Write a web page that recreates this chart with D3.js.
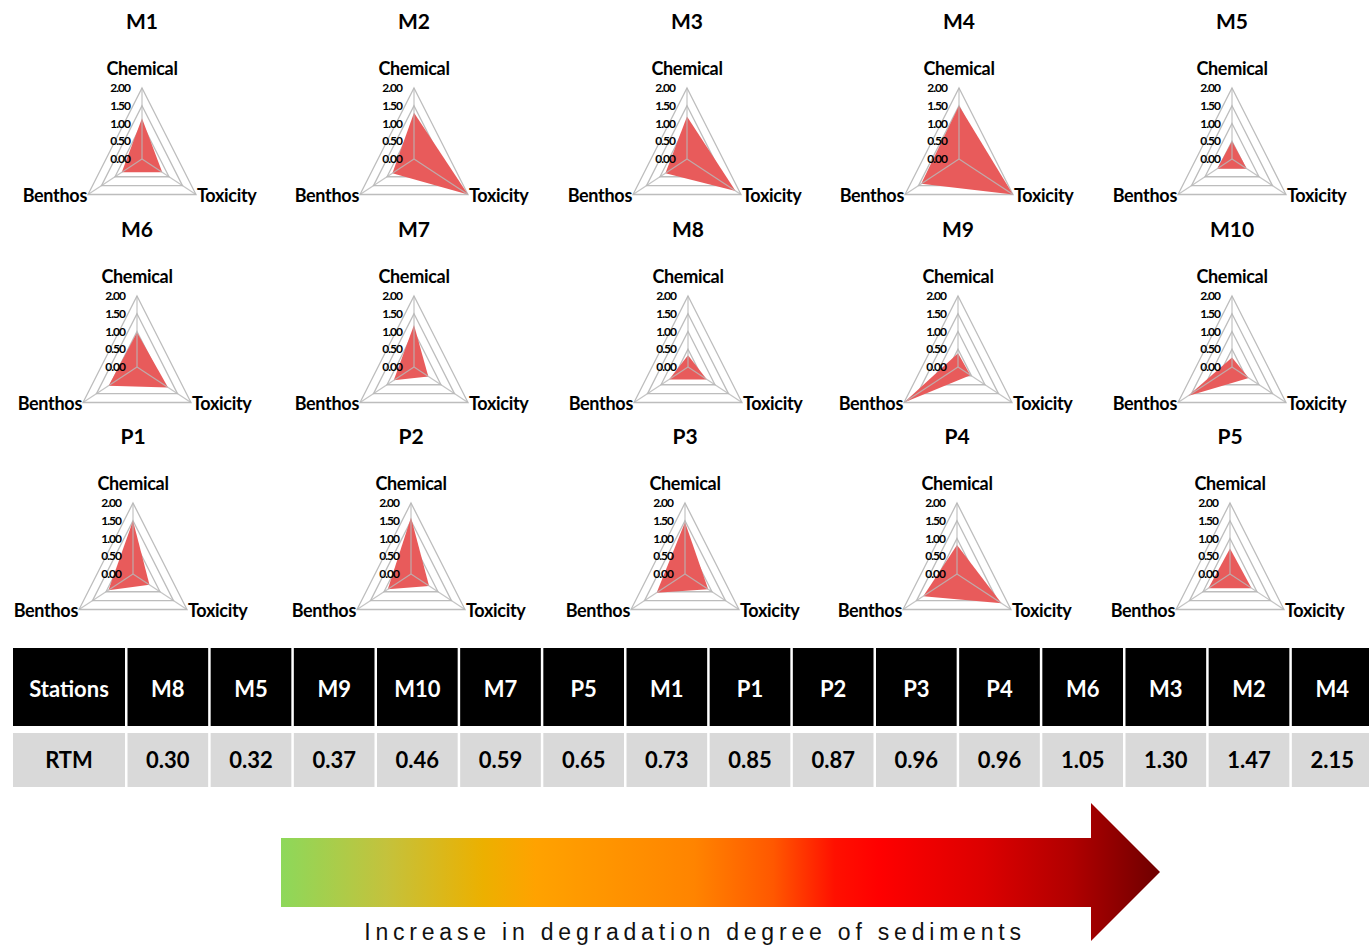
<!DOCTYPE html>
<html>
<head>
<meta charset="utf-8">
<script src="https://cdn.jsdelivr.net/npm/d3@7"></script>
<style>
  body { margin: 0; background: #fff; }
  svg { display: block; }
</style>
</head>
<body>
<div id="chart"></div>
<script>
// radar values, one entry per station
const stations = ['M1', 'M2', 'M3', 'M4', 'M5', 'M6', 'M7', 'M8', 'M9', 'M10', 'P1', 'P2', 'P3', 'P4', 'P5'];
const chemical = [1.15, 1.30, 1.20, 1.50, 0.50, 0.97, 1.18, 0.33, 0.39, 0.27, 1.50, 1.59, 1.46, 0.82, 0.72];
const toxicity = [0.75, 2.00, 1.80, 2.00, 0.55, 1.15, 0.53, 0.70, 0.46, 0.62, 0.61, 0.67, 0.86, 1.65, 0.80];
const benthos = [0.75, 0.80, 0.80, 1.40, 0.55, 1.05, 0.75, 0.70, 2.00, 1.63, 0.91, 0.86, 1.05, 1.25, 0.80];
const radarTicks = [0, 0.5, 1, 1.5, 2];

// ranking table
const rankStations = ['M8', 'M5', 'M9', 'M10', 'M7', 'P5', 'M1', 'P1', 'P2', 'P3', 'P4', 'M6', 'M3', 'M2', 'M4'];
const rtm = [0.30, 0.32, 0.37, 0.46, 0.59, 0.65, 0.73, 0.85, 0.87, 0.96, 0.96, 1.05, 1.30, 1.47, 2.15];

const arrowLabel = 'Increase in degradation degree of sediments';

const width = 1369;
const height = 945;

// panel layout (centres of each radar)
const panelX = [142, 414, 687, 959, 1232, 137, 414, 688, 958, 1232, 133, 411, 685, 957, 1230];
const rowY = [159, 367, 574];

const svg = d3.select('#chart')
  .append('svg')
  .attr('width', width)
  .attr('height', height)
  .attr('viewBox', `0 0 ${width} ${height}`);

svg.append('rect').attr('width', width).attr('height', height).attr('fill', '#fff');

const R = 71;
const xSquash = 0.878;
const rScale = d3.scaleLinear().domain([0, 2]).range([0, R]);

// axes: chemical top, toxicity bottom right, benthos bottom left
const axes = [
  { name: 'Chemical', angle: -90, values: chemical },
  { name: 'Toxicity', angle: 30, values: toxicity },
  { name: 'Benthos', angle: 150, values: benthos },
];

function pt(cx, cy, angle, v) {
  const a = angle * Math.PI / 180;
  return [cx + rScale(v) * Math.cos(a) * xSquash, cy + rScale(v) * Math.sin(a)];
}

const closed = d3.line().curve(d3.curveLinearClosed);

stations.forEach((st, i) => {
  const cx = panelX[i];
  const cy = rowY[Math.floor(i / 5)];
  const g = svg.append('g').attr('class', 'radar');

  // rings
  radarTicks.filter((t) => t > 0).forEach((t) => {
    g.append('path')
      .attr('d', closed(axes.map((ax) => pt(cx, cy, ax.angle, t))))
      .attr('fill', 'none')
      .attr('stroke', '#bdbdbd')
      .attr('stroke-width', 1.3);
  });

  // data polygon
  g.append('path')
    .attr('d', closed(axes.map((ax) => pt(cx, cy, ax.angle, ax.values[i]))))
    .attr('fill', '#e85b5b');

  // spokes
  axes.forEach((ax) => {
    const [x2, y2] = pt(cx, cy, ax.angle, 2);
    g.append('line')
      .attr('x1', cx).attr('y1', cy)
      .attr('x2', x2).attr('y2', y2)
      .attr('stroke', '#b8b8b8')
      .attr('stroke-opacity', 0.85)
      .attr('stroke-width', 1.2);
  });

  // tick labels
  g.selectAll('text.tick')
    .data(radarTicks)
    .join('text')
    .attr('class', 'tick')
    .attr('x', cx - 12)
    .attr('y', (d) => cy - rScale(d))
    .attr('dy', '0.35em')
    .attr('text-anchor', 'end')
    .style('font-family', 'Lato, sans-serif')
    .style('font-weight', 'bold')
    .style('font-size', '12px')
    .style('letter-spacing', '-1px')
    .text((d) => d.toFixed(2));

  // axis labels
  const top = pt(cx, cy, -90, 2);
  const right = pt(cx, cy, 30, 2);
  const left = pt(cx, cy, 150, 2);
  const lab = (x, y, anchor, txt) => g.append('text')
    .attr('x', x).attr('y', y)
    .attr('text-anchor', anchor)
    .attr('dy', '0.35em')
    .style('font-family', 'Lato, sans-serif')
    .style('font-weight', 'bold')
    .style('font-size', '18px')
    .style('letter-spacing', '-0.3px')
    .text(txt);
  lab(top[0], top[1] - 19, 'middle', 'Chemical');
  lab(right[0] + 1, right[1] + 1, 'start', 'Toxicity');
  lab(left[0] - 1, left[1] + 1, 'end', 'Benthos');

  // station title
  g.append('text')
    .attr('x', cx)
    .attr('y', cy - R - 66)
    .attr('dy', '0.35em')
    .attr('text-anchor', 'middle')
    .style('font-family', 'Lato, sans-serif')
    .style('font-weight', 'bold')
    .style('font-size', '21px')
    .text(st);
});

// ---- table ----
const table = svg.append('g').attr('class', 'table');
const x = d3.scaleBand()
  .domain(rankStations)
  .range([127.5, 127.5 + rankStations.length * 83])
  .paddingInner(0.03)
  .paddingOuter(0);

const headTop = 648, headH = 78;
const rowTop = 733, rowH = 54;

function cellText(sel, cxp, cyp, txt, col) {
  sel.append('text')
    .attr('x', cxp).attr('y', cyp)
    .attr('dy', '0.38em')
    .attr('text-anchor', 'middle')
    .style('font-family', 'Lato, sans-serif')
    .style('font-weight', 'bold')
    .style('font-size', '22px')
    .attr('fill', col)
    .text(txt);
}

table.append('rect').attr('x', 13).attr('y', headTop).attr('width', 112).attr('height', headH).attr('fill', '#000');
table.append('rect').attr('x', 13).attr('y', rowTop).attr('width', 112).attr('height', rowH).attr('fill', '#d9d9d9');
cellText(table, 69, headTop + headH / 2 + 2, 'Stations', '#fff');
cellText(table, 69, rowTop + rowH / 2, 'RTM', '#000');

table.selectAll('rect.head')
  .data(rankStations)
  .join('rect')
  .attr('class', 'head')
  .attr('x', (d) => x(d))
  .attr('y', headTop)
  .attr('width', x.bandwidth())
  .attr('height', headH)
  .attr('fill', '#000');

table.selectAll('rect.val')
  .data(rankStations)
  .join('rect')
  .attr('class', 'val')
  .attr('x', (d) => x(d))
  .attr('y', rowTop)
  .attr('width', x.bandwidth())
  .attr('height', rowH)
  .attr('fill', '#d9d9d9');

rankStations.forEach((s, i) => {
  const c = x(s) + x.bandwidth() / 2;
  cellText(table, c, headTop + headH / 2 + 2, s, '#fff');
  cellText(table, c, rowTop + rowH / 2, rtm[i].toFixed(2), '#000');
});

// ---- gradient arrow ----
const defs = svg.append('defs');
const grad = defs.append('linearGradient')
  .attr('id', 'degrade')
  .attr('gradientUnits', 'userSpaceOnUse')
  .attr('x1', 281).attr('x2', 1160)
  .attr('y1', 0).attr('y2', 0);
const stops = [
  [0, '#8dd85a'], [0.12, '#c4c23c'], [0.23, '#ecb000'], [0.29, '#ffa200'],
  [0.47, '#ff8400'], [0.56, '#ff5800'], [0.63, '#ff1000'], [0.68, '#ff0000'],
  [0.8, '#dc0000'], [0.9, '#b00000'], [1, '#6e0000'],
];
grad.selectAll('stop')
  .data(stops)
  .join('stop')
  .attr('offset', (d) => d[0])
  .attr('stop-color', (d) => d[1]);

const arrowPts = [
  [281, 838], [1091, 838], [1091, 803], [1160, 872],
  [1091, 941], [1091, 907], [281, 907],
];
svg.append('path')
  .attr('d', closed(arrowPts))
  .attr('fill', 'url(#degrade)');

svg.append('text')
  .attr('x', 695)
  .attr('y', 940)
  .attr('text-anchor', 'middle')
  .style('font-family', '"Liberation Sans", Arial, sans-serif')
  .style('font-size', '23px')
  .style('letter-spacing', '4.8px')
  .attr('fill', '#111')
  .text(arrowLabel);
</script>
</body>
</html>
